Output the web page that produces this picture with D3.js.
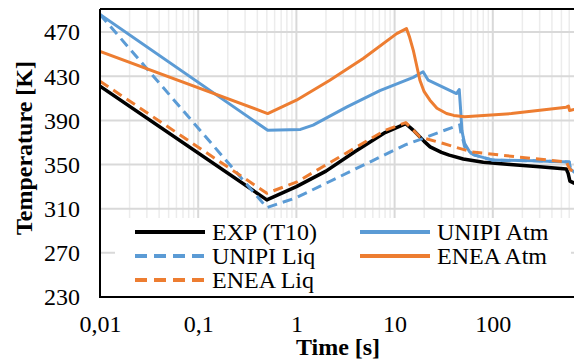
<!DOCTYPE html>
<html>
<head>
<meta charset="utf-8">
<script src="https://cdn.jsdelivr.net/npm/d3@7"></script>
<style>
  html, body { margin: 0; padding: 0; background: #fff; }
  svg { display: block; font-family: "Liberation Serif", "Times New Roman", serif; }
</style>
</head>
<body>
<div id="chart"></div>
<script>
// series: [time s, temperature K]
const expT10 = [[0.01, 421], [0.5, 318], [1, 330], [2, 344], [4, 362], [8, 379], [13, 387], [16, 380], [20, 371], [23, 366],
  [30, 361], [36, 358.5], [50, 355], [80, 352], [150, 350], [300, 348], [560, 346], [585, 342], [610, 335], [680, 333]];
const unipiAtm = [[0.01, 486], [0.51, 381], [1.1, 381.8], [1.48, 385.7], [3.24, 402], [7.08, 417], [15.5, 429], [19.5, 434],
  [22, 426.4], [42.7, 414.3], [45.5, 418], [47, 400], [48.5, 381], [49.9, 375], [51.7, 369], [58, 361.5], [65.5, 358.5],
  [100, 354], [257, 353.4], [600, 352.4], [615, 346], [680, 343]];
const unipiLiq = [[0.01, 486], [0.5, 311], [1, 320], [2, 333], [4, 346], [8, 359], [13, 368], [20, 374], [30, 380], [46, 386],
  [47.5, 378], [49.9, 372], [51.7, 366], [58, 361], [65.5, 358.5], [100, 354], [257, 353.4], [600, 352.4], [615, 346], [680, 343]];
const eneaAtm = [[0.01, 452.6], [0.51, 396.2], [1, 408.3], [2.19, 426.4], [4.79, 446], [10.5, 468.6], [13.2, 473.2], [14.2, 465.5],
  [15.5, 453.5], [18.1, 426.4], [20, 416], [22.9, 408.3], [27, 401], [33.8, 396.2], [40, 394.5], [51.7, 393.2], [154.6, 396.2],
  [560, 402], [590, 403], [605, 399], [680, 400]];
const eneaLiq = [[0.01, 425.5], [0.5, 324], [1, 334], [2.77, 357], [8, 381], [13, 388], [18.1, 375], [31.4, 369], [60.3, 361.5],
  [174, 357], [562, 352.4], [590, 348], [620, 345], [680, 344]];

const xTicks = [0.01, 0.1, 1, 10, 100];
const xTickLabels = ['0,01', '0,1', '1', '10', '100'];
const yTicks = [230, 270, 310, 350, 390, 430, 470];

const series = [
  { name: 'EXP (T10)', data: expT10, color: '#000000', dash: null, width: 3.5 },
  { name: 'UNIPI Atm', data: unipiAtm, color: '#5B9BD5', dash: null, width: 3 },
  { name: 'UNIPI Liq', data: unipiLiq, color: '#5B9BD5', dash: '10,6', width: 3 },
  { name: 'ENEA Atm', data: eneaAtm, color: '#ED7D31', dash: null, width: 3 },
  { name: 'ENEA Liq', data: eneaLiq, color: '#ED7D31', dash: '10,6', width: 3 }
];

const W = 574, H = 360;
const m = { left: 100, top: 10, bottom: 297, right: 574 };
const serif = '"Liberation Serif", "Times New Roman", serif';

const svg = d3.select('#chart').append('svg')
  .attr('width', W)
  .attr('height', H);

const x = d3.scaleLog().domain([0.01, 1000]).range([m.left, 591]);
const y = d3.scaleLinear().domain([230, 490]).range([m.bottom, m.top]);

svg.append('clipPath').attr('id', 'plot-clip')
  .append('rect')
  .attr('x', m.left).attr('y', m.top - 2)
  .attr('width', m.right - m.left).attr('height', m.bottom - m.top + 2);

const plot = svg.append('g').attr('clip-path', 'url(#plot-clip)');

// minor + major vertical grid
const minorTicks = [];
[0.01, 0.1, 1, 10, 100].forEach(d => { for (let k = 2; k <= 9; k++) minorTicks.push(d * k); });
plot.selectAll('.minor')
  .data(minorTicks)
  .enter().append('line')
  .attr('x1', d => x(d)).attr('x2', d => x(d))
  .attr('y1', m.top).attr('y2', m.bottom)
  .attr('stroke', '#ececec')
  .attr('stroke-width', 1.5);

plot.selectAll('.vmajor')
  .data(xTicks)
  .enter().append('line')
  .attr('x1', d => x(d)).attr('x2', d => x(d))
  .attr('y1', m.top).attr('y2', m.bottom)
  .attr('stroke', '#d9d9d9')
  .attr('stroke-width', 2);

plot.selectAll('.hmajor')
  .data(yTicks)
  .enter().append('line')
  .attr('x1', m.left).attr('x2', m.right)
  .attr('y1', d => y(d)).attr('y2', d => y(d))
  .attr('stroke', '#d9d9d9')
  .attr('stroke-width', 2);

// top border
svg.append('line')
  .attr('x1', m.left).attr('x2', m.right)
  .attr('y1', 9).attr('y2', 9)
  .attr('stroke', '#000')
  .attr('stroke-width', 2);

// lines
const line = d3.line()
  .x(d => x(d[0]))
  .y(d => y(d[1]));

series.forEach(s => {
  plot.append('path')
    .datum(s.data)
    .attr('fill', 'none')
    .attr('stroke', s.color)
    .attr('stroke-width', s.width)
    .attr('stroke-dasharray', s.dash)
    .attr('stroke-linejoin', 'round')
    .attr('d', line);
});

// legend (white box inside the plot)
const legend = svg.append('g');
legend.append('rect')
  .attr('x', 115).attr('y', 218)
  .attr('width', 456).attr('height', m.bottom - 218)
  .attr('fill', '#fff');

const legendPos = [
  { col: 0, row: 0 }, { col: 1, row: 0 }, { col: 0, row: 1 }, { col: 1, row: 1 }, { col: 0, row: 2 }
];
const colX = [135, 360];
series.forEach((s, i) => {
  const p = legendPos[i];
  const lx = colX[p.col];
  const ly = 232 + p.row * 24;
  legend.append('line')
    .attr('x1', lx).attr('x2', lx + 70)
    .attr('y1', ly).attr('y2', ly)
    .attr('stroke', s.color)
    .attr('stroke-width', 4)
    .attr('stroke-dasharray', s.dash ? '12,7' : null);
  legend.append('text')
    .attr('x', lx + 77)
    .attr('y', ly + 7.5)
    .attr('font-family', serif)
    .attr('font-size', 24)
    .attr('fill', '#000')
    .text(s.name);
});

// axes
const xAxis = svg.append('g')
  .attr('transform', `translate(0,${m.bottom})`)
  .call(d3.axisBottom(x).tickValues(xTicks).tickSize(0).tickFormat((d, i) => xTickLabels[i]));
xAxis.select('.domain').remove();
xAxis.selectAll('text')
  .attr('font-family', serif)
  .attr('font-size', 24)
  .attr('fill', '#000')
  .attr('dy', null)
  .attr('y', 35);

const yAxis = svg.append('g')
  .attr('transform', `translate(${m.left},0)`)
  .call(d3.axisLeft(y).tickValues(yTicks).tickSize(0));
yAxis.select('.domain').remove();
yAxis.selectAll('text')
  .attr('font-family', serif)
  .attr('font-size', 24)
  .attr('fill', '#000')
  .attr('x', -20)
  .attr('dy', '0.33em');

// axis lines
svg.append('line')
  .attr('x1', m.left).attr('x2', m.left)
  .attr('y1', 9).attr('y2', m.bottom + 1)
  .attr('stroke', '#000').attr('stroke-width', 2);
svg.append('line')
  .attr('x1', m.left - 1).attr('x2', m.right)
  .attr('y1', m.bottom).attr('y2', m.bottom)
  .attr('stroke', '#000').attr('stroke-width', 2);

// titles
svg.append('text')
  .attr('x', 338).attr('y', 355)
  .attr('text-anchor', 'middle')
  .attr('font-family', serif)
  .attr('font-size', 24)
  .attr('font-weight', 'bold')
  .text('Time [s]');

svg.append('text')
  .attr('transform', 'translate(32,148) rotate(-90)')
  .attr('text-anchor', 'middle')
  .attr('font-family', serif)
  .attr('font-size', 24)
  .attr('font-weight', 'bold')
  .text('Temperature [K]');
</script>
</body>
</html>
